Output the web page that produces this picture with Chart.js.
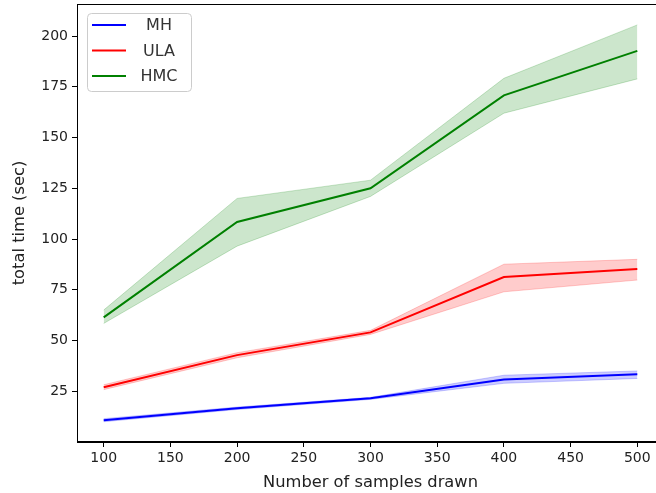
<!DOCTYPE html>
<html>
<head>
<meta charset="utf-8">
<script src="https://cdn.jsdelivr.net/npm/chart.js@4.4.1/dist/chart.umd.min.js"></script>
<style>
  html, body { margin: 0; padding: 0; background: #fff; overflow: hidden; }
  #wrap { width: 664px; height: 493px; }
</style>
</head>
<body>
<div id="wrap"><canvas id="timeChart" width="664" height="493"></canvas></div>
<script>
const samples = [100, 200, 300, 400, 500];
const xTicks = [100, 150, 200, 250, 300, 350, 400, 450, 500];
const yTicks = [25, 50, 75, 100, 125, 150, 175, 200];

const mhMean = [10.7, 16.6, 21.5, 30.8, 33.4];
const mhLow = [10.0, 16.0, 21.0, 28.9, 31.3];
const mhHigh = [11.5, 17.2, 22.0, 32.9, 35.0];

const ulaMean = [27.0, 42.8, 54.0, 81.3, 85.2];
const ulaLow = [25.8, 41.5, 53.0, 74.0, 79.8];
const ulaHigh = [28.2, 44.0, 55.0, 87.6, 90.0];

const hmcMean = [61.4, 108.4, 125.0, 170.8, 192.7];
const hmcLow = [58.4, 96.5, 121.0, 162.0, 178.9];
const hmcHigh = [65.0, 120.0, 129.0, 179.2, 205.5];

const FONT = "'DejaVu Sans', sans-serif";

function pts(ys) {
  return samples.map((x, i) => ({ x: x, y: ys[i] }));
}

function series(label, color, rgb, mean, low, high) {
  return [
    {
      label: label + " low",
      data: pts(low),
      borderColor: "rgba(" + rgb + ",0.2)",
      borderWidth: 1,
      pointRadius: 0,
      fill: false,
      tension: 0,
    },
    {
      label: label + " high",
      data: pts(high),
      borderColor: "rgba(" + rgb + ",0.2)",
      backgroundColor: "rgba(" + rgb + ",0.2)",
      borderWidth: 1,
      pointRadius: 0,
      fill: "-1",
      tension: 0,
    },
    {
      label: label,
      data: pts(mean),
      borderColor: color,
      borderWidth: 2,
      pointRadius: 0,
      fill: false,
      tension: 0,
      legend: true,
    },
  ];
}

// matplotlib style frame around the axes
const framePlugin = {
  id: "frame",
  afterDatasetsDraw(chart) {
    const { ctx, chartArea } = chart;
    ctx.save();
    ctx.strokeStyle = "#000";
    ctx.lineWidth = 1;
    ctx.strokeRect(chartArea.left + 0.5, chartArea.top + 0.5,
      chartArea.right - chartArea.left - 1, chartArea.bottom - chartArea.top - 1);
    ctx.restore();
  },
};

// legend box drawn inside the axes, upper left
const legendPlugin = {
  id: "boxLegend",
  afterDraw(chart) {
    const ctx = chart.ctx;
    const items = chart.data.datasets.filter((d) => d.legend);
    const x0 = 87, y0 = 13, w = 104, h = 78, r = 4;
    ctx.save();
    ctx.beginPath();
    ctx.roundRect(x0 + 0.5, y0 + 0.5, w, h, r);
    ctx.fillStyle = "rgba(255,255,255,0.8)";
    ctx.fill();
    ctx.strokeStyle = "#cccccc";
    ctx.lineWidth = 1;
    ctx.stroke();
    ctx.font = "16px " + FONT;
    ctx.textBaseline = "middle";
    ctx.textAlign = "center";
    items.forEach((d, i) => {
      const y = 25 + i * 25.5;
      ctx.strokeStyle = d.borderColor;
      ctx.lineWidth = 2;
      ctx.beginPath();
      ctx.moveTo(92, y);
      ctx.lineTo(126, y);
      ctx.stroke();
      ctx.fillStyle = "#333";
      ctx.fillText(d.label, 159, y + 1);
    });
    ctx.restore();
  },
};

const datasets = [
  ...series("MH", "#0000ff", "0,0,255", mhMean, mhLow, mhHigh),
  ...series("ULA", "#ff0000", "255,0,0", ulaMean, ulaLow, ulaHigh),
  ...series("HMC", "#008000", "0,128,0", hmcMean, hmcLow, hmcHigh),
];

new Chart(document.getElementById("timeChart"), {
  type: "line",
  data: { datasets },
  options: {
    responsive: false,
    animation: false,
    layout: { padding: { top: 4, right: 0, left: 0, bottom: 0 } },
    plugins: {
      legend: { display: false },
      tooltip: { enabled: false },
    },
    scales: {
      x: {
        type: "linear",
        min: 80,
        max: 520,
        afterBuildTicks(scale) { scale.ticks = xTicks.map((v) => ({ value: v })); },
        afterFit(scale) {
          scale.height = 51;
          scale.paddingLeft = 0;
          scale.paddingRight = 0;
        },
        grid: { drawOnChartArea: false, drawTicks: true, tickLength: 5, color: "#000" },
        border: { display: true, color: "#000" },
        ticks: { color: "#222", font: { family: FONT, size: 14 }, padding: 3, maxRotation: 0 },
        title: {
          display: true,
          text: "Number of samples drawn",
          color: "#222",
          font: { family: FONT, size: 16.3 },
          padding: { top: 0.5, bottom: 0 },
        },
      },
      y: {
        min: 0,
        max: 215.8,
        afterBuildTicks(scale) { scale.ticks = yTicks.map((v) => ({ value: v })); },
        afterFit(scale) {
          scale.width = 77;
          scale.paddingTop = 0;
          scale.paddingBottom = 0;
        },
        grid: { drawOnChartArea: false, drawTicks: true, tickLength: 5, color: "#000" },
        border: { display: true, color: "#000" },
        ticks: { color: "#222", font: { family: FONT, size: 14 }, padding: 4 },
        title: {
          display: true,
          text: "total time (sec)",
          color: "#222",
          font: { family: FONT, size: 16.3 },
          padding: { top: 9.5, bottom: 0 },
        },
      },
    },
  },
  plugins: [framePlugin, legendPlugin],
});
</script>
</body>
</html>
